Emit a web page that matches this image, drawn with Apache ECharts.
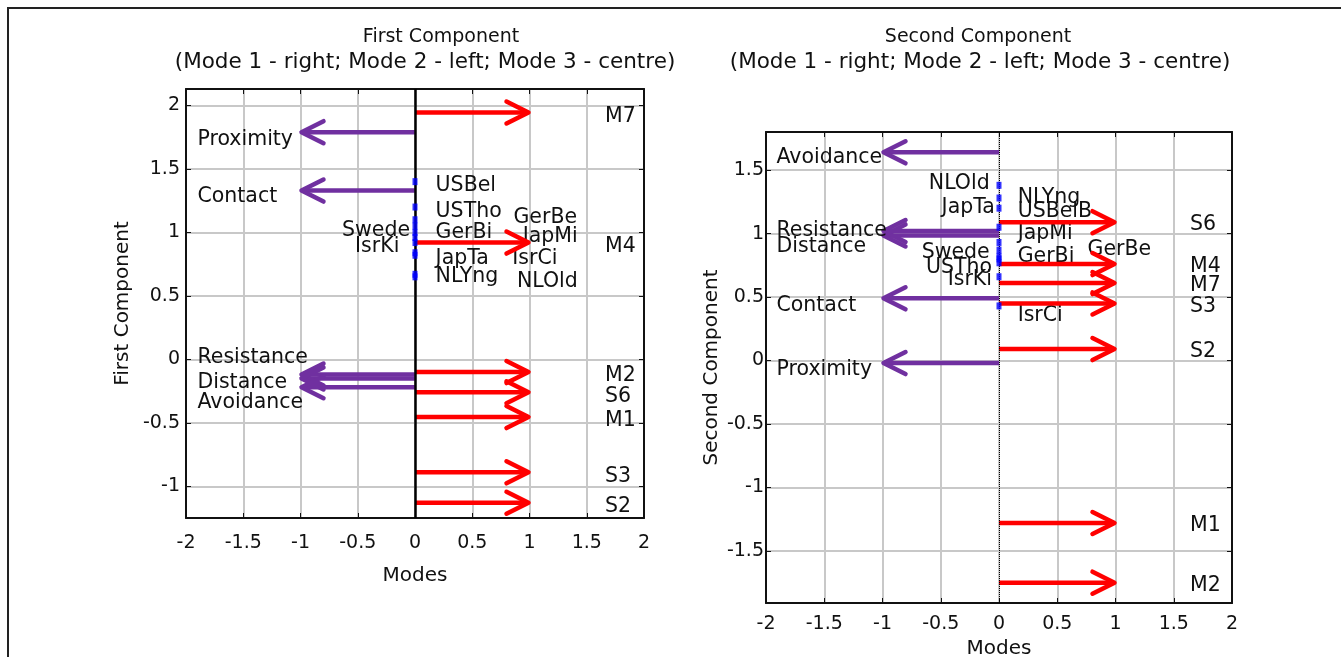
<!DOCTYPE html>
<html><head><meta charset="utf-8">
<script src="https://cdn.jsdelivr.net/npm/echarts@6/dist/echarts.min.js"></script>
<style>html,body{margin:0;padding:0;background:#fff}#c{width:1341px;height:657px}</style>
</head><body><div id="c"></div>
<script>
// ---------------- data ----------------
const xTicks = [-2, -1.5, -1, -0.5, 0, 0.5, 1, 1.5, 2];
const yTicksFirst = [-1, -0.5, 0, 0.5, 1, 1.5, 2];
const yTicksSecond = [-1.5, -1, -0.5, 0, 0.5, 1, 1.5];
const MODE1_END = 1;     // Mode 1 arrows point right
const MODE2_END = -1;    // Mode 2 arrows point left

// First component
const firstMode1Names = ['M7', 'M4', 'M2', 'S6', 'M1', 'S3', 'S2'];
const firstMode1Values = [1.945, 0.92, -0.10, -0.26, -0.455, -0.89, -1.13];
const firstMode2Names = ['Proximity', 'Contact', 'Resistance', 'Distance', 'Avoidance'];
const firstMode2Values = [1.79, 1.33, -0.12, -0.15, -0.22];
const firstMode2LabelY = [1.73, 1.28, 0.01, -0.18, -0.34];
const firstMode3Names = ['USBel', 'USTho', 'GerBe', 'GerBi', 'Swede', 'JapMi', 'IsrKi', 'JapTa', 'IsrCi', 'NLYng', 'NLOld'];
const firstMode3Values = [1.40, 1.20, 1.10, 1.05, 1.00, 0.96, 0.92, 0.84, 0.82, 0.67, 0.65];
const firstMode3LabelX = [0.18, 0.18, 0.86, 0.18, -0.34, 0.94, -0.33, 0.18, 0.85, 0.18, 0.89];
const firstMode3LabelY = [1.37, 1.16, 1.12, 1.0, 1.01, 0.97, 0.89, 0.79, 0.79, 0.65, 0.61];
const firstMode3Align = ['left', 'left', 'left', 'left', 'center', 'left', 'center', 'left', 'left', 'left', 'left'];

// Second component
const secondMode1Names = ['S6', 'M4', 'M7', 'S3', 'S2', 'M1', 'M2'];
const secondMode1Values = [1.09, 0.76, 0.61, 0.45, 0.09, -1.28, -1.75];
const secondMode2Names = ['Avoidance', 'Resistance', 'Distance', 'Contact', 'Proximity'];
const secondMode2Values = [1.64, 1.02, 0.985, 0.49, -0.02];
const secondMode2LabelY = [1.60, 1.02, 0.90, 0.43, -0.07];
const secondMode3Names = ['NLOld', 'NLYng', 'JapTa', 'USBelB', 'JapMi', 'Swede', 'GerBi', 'GerBe', 'USTho', 'IsrKi', 'IsrCi'];
const secondMode3Values = [1.38, 1.28, 1.20, 1.05, 0.93, 0.87, 0.82, 0.80, 0.77, 0.66, 0.43];
const secondMode3LabelX = [-0.08, 0.16, -0.035, 0.16, 0.16, -0.08, 0.16, 0.76, -0.06, -0.06, 0.16];
const secondMode3LabelY = [1.39, 1.28, 1.205, 1.17, 1.0, 0.85, 0.82, 0.874, 0.73, 0.64, 0.35];
const secondMode3Align = ['right', 'left', 'right', 'left', 'left', 'right', 'left', 'left', 'right', 'right', 'left'];

// ---------------- styling ----------------
const FONT = 'DejaVu Sans, Verdana, sans-serif';
const TXT = '#111';
const RED = '#ff0000';
const PURPLE = '#7030a0';
const BLUE = '#0000ff';
const GRIDC = '#c8c8c8';
const LABEL_SIZE = 20.5;

function arrowSeries(gi, values, endX, color, z) {
  return {
    type: 'custom', xAxisIndex: gi * 2, yAxisIndex: gi * 2, z: z,
    data: values.map(v => [endX, v]),
    renderItem: function (params, api) {
      const y = api.value(1), ex = api.value(0);
      const p0 = api.coord([0, y]), p1 = api.coord([ex, y]);
      const dir = p1[0] > p0[0] ? 1 : -1;
      const hl = 23, hw = 11, lw = 4.5;
      return {
        type: 'group', children: [
          { type: 'line', shape: { x1: p0[0], y1: p0[1], x2: p1[0] - dir * 2, y2: p1[1] },
            style: { stroke: color, lineWidth: lw } },
          { type: 'polyline', shape: { points: [[p1[0] - dir * hl, p1[1] - hw], [p1[0] - dir * 1, p1[1]], [p1[0] - dir * hl, p1[1] + hw]] },
            style: { stroke: color, lineWidth: lw, fill: null, lineJoin: 'round', lineCap: 'round' } }
        ]
      };
    }
  };
}

function textSeries(gi, xs, ys, names, aligns, dy, size, z) {
  return {
    type: 'custom', xAxisIndex: gi * 2, yAxisIndex: gi * 2, z: z, clip: false,
    data: xs.map((x, i) => [x, ys[i]]),
    renderItem: function (params, api) {
      const i = params.dataIndex;
      const p = api.coord([api.value(0), api.value(1)]);
      return {
        type: 'text',
        style: { x: p[0], y: p[1] + dy, text: names[i], fill: TXT, fontSize: size, fontFamily: FONT,
                 align: aligns[i], verticalAlign: 'middle' }
      };
    }
  };
}

function markerSeries(gi, values, zeroStyle) {
  return {
    type: 'scatter', xAxisIndex: gi * 2, yAxisIndex: gi * 2, z: 6,
    symbol: 'rect', symbolSize: [5, 7],
    itemStyle: { color: BLUE },
    data: values.map(v => [0, v]),
    markLine: {
      silent: true, symbol: 'none', label: { show: false },
      lineStyle: zeroStyle,
      data: [{ xAxis: 0 }]
    }
  };
}

const grids = [
  { left: 186, top: 89, width: 458, height: 429, outerBoundsMode: 'none', containLabel: false },
  { left: 766, top: 132, width: 466, height: 471, outerBoundsMode: 'none', containLabel: false }
];
const yRanges = [[-1.25, 2.13], [-1.91, 1.80]];
const yTickSets = [yTicksFirst, yTicksSecond];
const yNames = ['First Component', 'Second Component'];

const xAxes = [], yAxes = [];
[0, 1].forEach(gi => {
  xAxes.push({
    gridIndex: gi, type: 'value', position: 'bottom', min: -2, max: 2, interval: 0.5,
    name: 'Modes', nameLocation: 'middle', nameGap: gi === 0 ? 48 : 32,
    nameTextStyle: { fontFamily: FONT, fontSize: 20, color: TXT },
    axisLine: { onZero: false, lineStyle: { color: '#111', width: 2 } },
    axisTick: { inside: true, length: 5, lineStyle: { color: '#111' } },
    axisLabel: { fontFamily: FONT, fontSize: 19, color: TXT, margin: gi === 0 ? 16 : 12,
                 customValues: xTicks, formatter: v => String(v) },
    splitLine: { show: true, lineStyle: { color: GRIDC, width: 2 } }
  });
  xAxes.push({
    gridIndex: gi, type: 'value', position: 'top', min: -2, max: 2, interval: 0.5,
    axisLine: { onZero: false, lineStyle: { color: '#111', width: 2 } },
    axisTick: { inside: true, length: 5, lineStyle: { color: '#111' } },
    axisLabel: { show: false }, splitLine: { show: false }
  });
  yAxes.push({
    gridIndex: gi, type: 'value', position: 'left', min: yRanges[gi][0], max: yRanges[gi][1],
    name: yNames[gi], nameLocation: 'middle', nameGap: gi === 0 ? 53 : 44,
    nameTextStyle: { fontFamily: FONT, fontSize: 20, color: TXT },
    axisLine: { onZero: false, lineStyle: { color: '#111', width: 2 } },
    axisTick: { inside: true, length: 5, customValues: yTickSets[gi], lineStyle: { color: '#111' } },
    axisLabel: { fontFamily: FONT, fontSize: 19, color: TXT, margin: gi === 0 ? 6 : 2,
                 customValues: yTickSets[gi], formatter: v => String(v) },
    splitLine: { show: true, lineStyle: { color: GRIDC, width: 2 } }
  });
  yAxes.push({
    gridIndex: gi, type: 'value', position: 'right', min: yRanges[gi][0], max: yRanges[gi][1],
    axisLine: { onZero: false, lineStyle: { color: '#111', width: 2 } },
    axisTick: { inside: true, length: 5, customValues: yTickSets[gi], lineStyle: { color: '#111' } },
    axisLabel: { show: false }, splitLine: { show: false }
  });
});

const series = [
  // First component
  markerSeries(0, firstMode3Values, { color: '#000', width: 2.5, type: 'solid' }),
  arrowSeries(0, firstMode1Values, MODE1_END, RED, 4),
  arrowSeries(0, firstMode2Values, MODE2_END, PURPLE, 4),
  textSeries(0, firstMode1Names.map(() => 1.66), firstMode1Values, firstMode1Names, firstMode1Names.map(() => 'left'), 4, LABEL_SIZE, 8),
  textSeries(0, firstMode2Names.map(() => -1.9), firstMode2LabelY, firstMode2Names, firstMode2Names.map(() => 'left'), 0, LABEL_SIZE, 8),
  textSeries(0, firstMode3LabelX, firstMode3LabelY, firstMode3Names, firstMode3Align, 0, LABEL_SIZE, 3),
  // Second component
  markerSeries(1, secondMode3Values, { color: '#000', width: 1, type: 'dotted' }),
  arrowSeries(1, secondMode1Values, MODE1_END, RED, 4),
  arrowSeries(1, secondMode2Values, MODE2_END, PURPLE, 4),
  textSeries(1, secondMode1Names.map(() => 1.64), secondMode1Values, secondMode1Names, secondMode1Names.map(() => 'left'), 3, LABEL_SIZE, 8),
  textSeries(1, secondMode2Names.map(() => -1.91), secondMode2LabelY, secondMode2Names, secondMode2Names.map(() => 'left'), 0, LABEL_SIZE, 8),
  textSeries(1, secondMode3LabelX, secondMode3LabelY, secondMode3Names, secondMode3Align, 0, LABEL_SIZE, 3)
];

const chart = echarts.init(document.getElementById('c'), null, { renderer: 'canvas' });
chart.setOption({
  backgroundColor: '#fff',
  animation: false,
  grid: grids,
  xAxis: xAxes,
  yAxis: yAxes,
  series: series,
  graphic: [
    { type: 'polyline', shape: { points: [[8, 660], [8, 8], [1345, 8]] }, style: { stroke: '#222', lineWidth: 2, fill: null } },
    { type: 'text', x: 441, y: 37, style: { text: 'First Component', font: '19px ' + FONT, fill: TXT, align: 'center', verticalAlign: 'middle' } },
    { type: 'text', x: 425, y: 62, style: { text: '(Mode 1 - right; Mode 2 - left; Mode 3 - centre)', font: '21.5px ' + FONT, fill: TXT, align: 'center', verticalAlign: 'middle' } },
    { type: 'text', x: 978, y: 37, style: { text: 'Second Component', font: '19px ' + FONT, fill: TXT, align: 'center', verticalAlign: 'middle' } },
    { type: 'text', x: 980, y: 62, style: { text: '(Mode 1 - right; Mode 2 - left; Mode 3 - centre)', font: '21.5px ' + FONT, fill: TXT, align: 'center', verticalAlign: 'middle' } }
  ]
});
</script></body></html>
